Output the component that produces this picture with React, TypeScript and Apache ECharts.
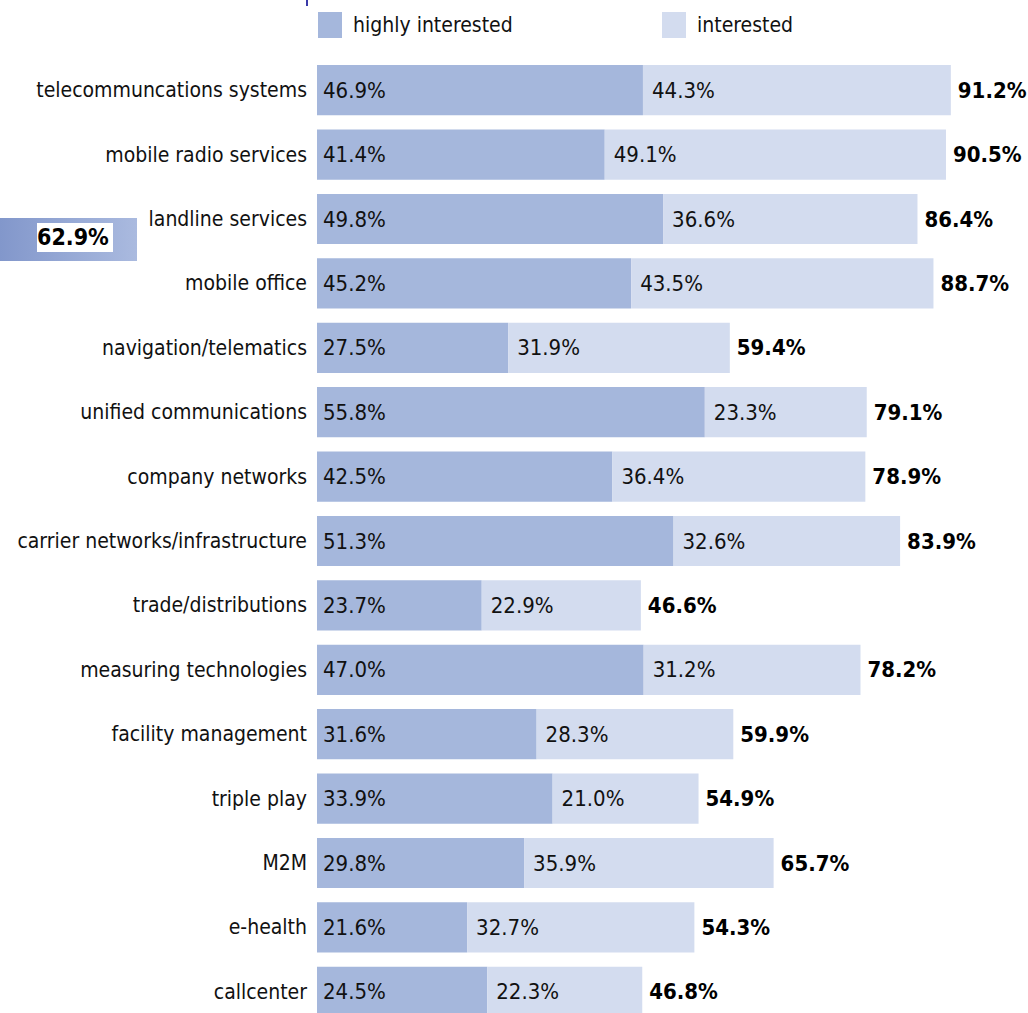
import React, { useEffect, useRef } from "react";
import * as echarts from "echarts";

const categories = [
  "telecommuncations systems",
  "mobile radio services",
  "landline services",
  "mobile office",
  "navigation/telematics",
  "unified communications",
  "company networks",
  "carrier networks/infrastructure",
  "trade/distributions",
  "measuring technologies",
  "facility management",
  "triple play",
  "M2M",
  "e-health",
  "callcenter",
];
const highlyInterested = [46.9, 41.4, 49.8, 45.2, 27.5, 55.8, 42.5, 51.3, 23.7, 47.0, 31.6, 33.9, 29.8, 21.6, 24.5];
const interested = [44.3, 49.1, 36.6, 43.5, 31.9, 23.3, 36.4, 32.6, 22.9, 31.2, 28.3, 21.0, 35.9, 32.7, 22.3];
const totals = [91.2, 90.5, 86.4, 88.7, 59.4, 79.1, 78.9, 83.9, 46.6, 78.2, 59.9, 54.9, 65.7, 54.3, 46.8];
const sideValue = "62.9%";

const FONT = "'DejaVu Sans Condensed', 'Liberation Sans Narrow', sans-serif";
const DARK = "#a5b7dc";
const LIGHT = "#d3dcef";

export default function App() {
  const ref = useRef<HTMLDivElement>(null);
  useEffect(() => {
    if (!ref.current) return;
    const chart = echarts.init(ref.current, undefined, { renderer: "svg" });
    const fmt = (p: any) => Number(p.value).toFixed(1) + "%";
    const legendCommon = {
      top: 12,
      padding: 0,
      itemWidth: 24,
      itemHeight: 26,
      icon: "rect",
      textStyle: { fontSize: 21, color: "#111", fontFamily: FONT, padding: [0, 0, 4, 6] },
    };
    chart.setOption({
      animation: false,
      backgroundColor: "#ffffff",
      textStyle: { fontFamily: FONT },
      legend: [
        { ...legendCommon, data: ["highly interested"], left: 318 },
        { ...legendCommon, data: ["interested"], left: 662 },
      ],
      grid: { left: 317, top: 58, width: 695, height: 966, containLabel: false },
      xAxis: {
        type: "value",
        min: 0,
        max: 100,
        show: false,
      },
      yAxis: {
        type: "category",
        data: categories,
        inverse: true,
        axisLine: { show: false },
        axisTick: { show: false },
        splitLine: { show: false },
        axisLabel: { fontSize: 21, color: "#111", margin: 10, fontFamily: FONT },
      },
      series: [
        {
          name: "highly interested",
          type: "bar",
          stack: "s",
          data: highlyInterested,
          barCategoryGap: "22%",
          itemStyle: { color: DARK },
          label: {
            show: true,
            position: "insideLeft",
            distance: 6,
            formatter: fmt,
            fontSize: 22,
            color: "#111",
            fontFamily: FONT,
          },
        },
        {
          name: "interested",
          type: "bar",
          stack: "s",
          data: interested,
          barCategoryGap: "22%",
          itemStyle: { color: LIGHT },
          label: {
            show: true,
            position: "insideLeft",
            distance: 9,
            formatter: fmt,
            fontSize: 22,
            color: "#111",
            fontFamily: FONT,
          },
        },
        {
          name: "total",
          type: "scatter",
          data: totals.map((v, i) => [v, categories[i]]),
          symbolSize: 0,
          silent: true,
          itemStyle: { opacity: 1 },
          label: {
            show: true,
            position: "right",
            distance: 7,
            opacity: 1,
            formatter: (p: any) => Number(p.value[0]).toFixed(1) + "%",
            fontSize: 22,
            fontWeight: "bold",
            color: "#000",
            fontFamily: FONT,
          },
        },
      ],
      graphic: [
        {
          type: "rect",
          left: 0,
          top: 218,
          shape: { width: 137, height: 43 },
          style: {
            fill: new echarts.graphic.LinearGradient(0, 0, 1, 0, [
              { offset: 0, color: "#8297cb" },
              { offset: 1, color: "#aabadf" },
            ]),
          },
        },
        {
          type: "rect",
          left: 37,
          top: 223,
          shape: { width: 76, height: 29 },
          style: { fill: "#ffffff" },
        },
        {
          type: "text",
          left: 37,
          top: 225,
          style: {
            text: sideValue,
            fontSize: 23,
            fontWeight: "bold",
            fill: "#000",
            fontFamily: FONT,
          },
        },
        {
          type: "rect",
          left: 306,
          top: 0,
          shape: { width: 2, height: 6 },
          style: { fill: "#3a3aa8" },
        },
      ],
    });
    return () => chart.dispose();
  }, []);
  return (
    <div style={{ position: "absolute", left: 0, top: 0, width: 1028, height: 1013, overflow: "hidden" }}>
      <div ref={ref} style={{ width: 1028, height: 1040 }} />
    </div>
  );
}
